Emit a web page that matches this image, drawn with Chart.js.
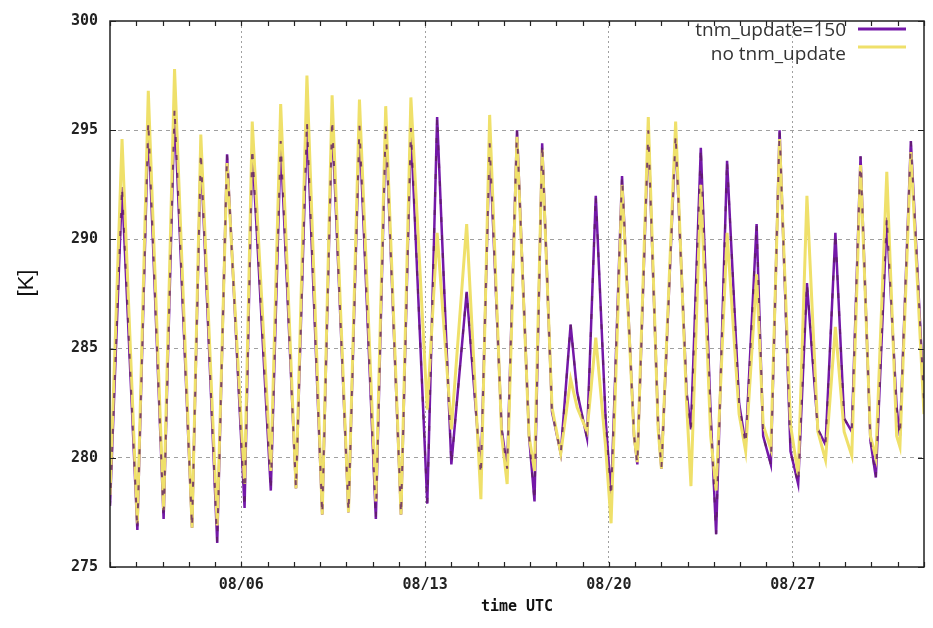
<!DOCTYPE html>
<html>
<head>
<meta charset="utf-8">
<title>tnm_update comparison</title>
<script src="https://cdn.jsdelivr.net/npm/chart.js"></script>
<style>
  html, body { margin: 0; padding: 0; background: #fff; }
  canvas { display: block; }
</style>
</head>
<body>
<canvas id="chart" width="933" height="628"></canvas>
<script>
// hours since 08/01 00 UTC (troughs, peaks and evening knees)
const timeHours = [
  0, 11, 25, 35, 49, 59, 75, 83, 98, 107,
  123, 130, 147, 156, 170, 180, 194, 203, 218, 228,
  243, 252, 266, 275, 290, 299, 312, 326, 339, 347,
  358, 363, 372, 383, 388, 395, 404, 412, 421, 427, 436,
  444, 453, 458, 468, 479, 482, 492, 501, 504,
  517, 527, 531, 540, 549, 554, 564, 575, 581, 591, 597, 604,
  612, 622, 629, 637, 647, 654, 663, 671, 678, 686, 695, 700,
  710, 719, 722, 732, 744
];

// temperature [K], tnm_update=150
const tnmUpdate150 = [
  277.8, 292.4, 276.7, 295.4, 277.2, 296.0, 276.8, 294.0, 276.1, 293.9,
  277.7, 294.2, 278.5, 294.5, 278.6, 295.4, 277.4, 295.5, 277.5, 295.2,
  277.2, 295.3, 277.4, 295.1, 277.9, 295.6, 279.7, 287.6, 279.2, 294.4,
  281.3, 279.5, 295.0, 281.0, 278.0, 294.4, 282.1, 280.2, 286.1, 283.0, 280.9,
  292.0, 281.8, 278.2, 292.9, 281.0, 279.7, 295.0, 281.5, 279.5,
  294.8, 283.0, 281.3, 294.2, 282.0, 276.5, 293.6, 282.5, 280.6, 290.7, 281.0, 279.7,
  295.0, 280.3, 278.8, 288.0, 281.3, 280.6, 290.3, 281.8, 281.2, 293.8, 280.8, 279.1,
  291.0, 282.3, 281.0, 294.5, 282.6
];

// temperature [K], no tnm_update
const noTnmUpdate = [
  278.3, 294.6, 277.0, 296.8, 277.6, 297.8, 276.8, 294.8, 276.9, 293.5,
  278.8, 295.4, 279.4, 296.2, 278.6, 297.5, 277.4, 296.6, 277.5, 296.4,
  278.0, 296.1, 277.4, 296.5, 282.2, 290.3, 281.3, 290.7, 278.1, 295.7,
  281.0, 278.8, 294.7, 281.0, 279.4, 294.1, 282.3, 280.2, 283.6, 282.3, 281.2,
  285.5, 280.5, 277.0, 292.5, 281.0, 279.8, 295.6, 281.3, 279.5,
  295.4, 282.5, 278.7, 292.5, 281.0, 278.5, 290.3, 282.0, 280.3, 288.4, 281.5, 280.4,
  294.6, 281.5, 279.2, 292.0, 281.2, 279.9, 286.0, 281.2, 280.1, 293.4, 281.0, 280.0,
  293.1, 281.0, 280.5, 294.0, 282.0
];

const tickHours = [120, 288, 456, 624];
const tickLabels = ['08/06', '08/13', '08/20', '08/27'];

const PURPLE = '#7418a8';
const YELLOW = '#efe06a';
const tickFont = { family: 'DejaVu Sans Mono', size: 15, weight: 'bold' };

const toPoints = (vals) => timeHours.map((h, i) => ({ x: h, y: vals[i] }));

// gnuplot style frame, inward ticks, titles and key
const gnuplotFrame = {
  id: 'gnuplotFrame',
  afterDraw(chart) {
    const { ctx, chartArea: a, scales: { x, y } } = chart;
    ctx.save();
    ctx.strokeStyle = '#222';
    ctx.lineWidth = 1.5;
    ctx.strokeRect(a.left, a.top, a.right - a.left, a.bottom - a.top);

    ctx.lineWidth = 1.2;
    ctx.beginPath();
    x.ticks.forEach(t => {
      const px = Math.round(x.getPixelForValue(t.value)) + 0.5;
      ctx.moveTo(px, a.bottom); ctx.lineTo(px, a.bottom - 5);
      ctx.moveTo(px, a.top); ctx.lineTo(px, a.top + 5);
    });
    y.ticks.forEach(t => {
      const py = Math.round(y.getPixelForValue(t.value)) + 0.5;
      ctx.moveTo(a.left, py); ctx.lineTo(a.left + 6, py);
      ctx.moveTo(a.right, py); ctx.lineTo(a.right - 6, py);
    });
    ctx.stroke();

    // axis titles
    ctx.fillStyle = '#111';
    ctx.font = 'bold 15px "DejaVu Sans Mono"';
    ctx.textAlign = 'center';
    ctx.textBaseline = 'middle';
    ctx.fillText('time UTC', (a.left + a.right) / 2, 607);

    ctx.save();
    ctx.translate(27, 283);
    ctx.rotate(-Math.PI / 2);
    ctx.font = '22px "Liberation Sans"';
    ctx.fillText('[K]', 0, 0);
    ctx.restore();

    // key
    const keys = [
      { ds: chart.data.datasets[0], textY: 36, lineY: 29 },
      { ds: chart.data.datasets[1], textY: 60, lineY: 47 }
    ];
    ctx.font = '19px "Open Sans"';
    ctx.textAlign = 'right';
    ctx.textBaseline = 'alphabetic';
    keys.forEach(k => {
      ctx.fillStyle = '#333';
      ctx.fillText(k.ds.label, 846, k.textY);
      ctx.strokeStyle = k.ds.borderColor;
      ctx.lineWidth = 3;
      ctx.beginPath();
      ctx.moveTo(858, k.lineY);
      ctx.lineTo(906, k.lineY);
      ctx.stroke();
    });
    ctx.restore();
  }
};

new Chart(document.getElementById('chart'), {
  type: 'line',
  data: {
    datasets: [
      {
        label: 'tnm_update=150',
        data: toPoints(tnmUpdate150),
        borderColor: PURPLE,
        borderWidth: 2.5,
        pointRadius: 0,
        tension: 0,
        order: 3
      },
      {
        label: 'no tnm_update',
        data: toPoints(noTnmUpdate),
        borderColor: YELLOW,
        borderWidth: 3,
        pointRadius: 0,
        tension: 0,
        order: 2
      },
      {
        // purple steps that show through the yellow line
        label: 'tnm_update=150 overlay',
        data: toPoints(tnmUpdate150),
        borderColor: 'rgba(95,30,100,0.8)',
        borderWidth: 2,
        borderDash: [5, 13],
        pointRadius: 0,
        tension: 0,
        order: 1
      }
    ]
  },
  options: {
    responsive: false,
    animation: false,
    devicePixelRatio: 1,
    layout: { padding: { top: 14, right: 7, left: 0, bottom: 0 } },
    plugins: { legend: { display: false }, tooltip: { enabled: false } },
    scales: {
      x: {
        type: 'linear',
        min: 0,
        max: 744,
        afterFit: s => { s.height = 61; },
        ticks: {
          stepSize: 24,
          autoSkip: false,
          maxRotation: 0,
          padding: 9,
          color: '#222',
          font: tickFont,
          callback: v => {
            const i = tickHours.indexOf(v);
            return i >= 0 ? tickLabels[i] : '';
          }
        },
        grid: {
          drawTicks: false,
          lineWidth: 1,
          color: c => (c.tick && tickHours.includes(c.tick.value)) ? '#a0a0a0' : 'rgba(0,0,0,0)'
        },
        border: { display: false, dash: [2, 3] }
      },
      y: {
        min: 275,
        max: 300,
        afterFit: s => { s.width = 110; },
        ticks: { stepSize: 5, padding: 12, color: '#222', font: tickFont },
        grid: {
          drawTicks: false,
          lineWidth: 1,
          color: c => (c.tick && (c.tick.value === 275 || c.tick.value === 300)) ? 'rgba(0,0,0,0)' : '#a0a0a0'
        },
        border: { display: false, dash: [4, 4] }
      }
    }
  },
  plugins: [gnuplotFrame]
});
</script>
</body>
</html>
